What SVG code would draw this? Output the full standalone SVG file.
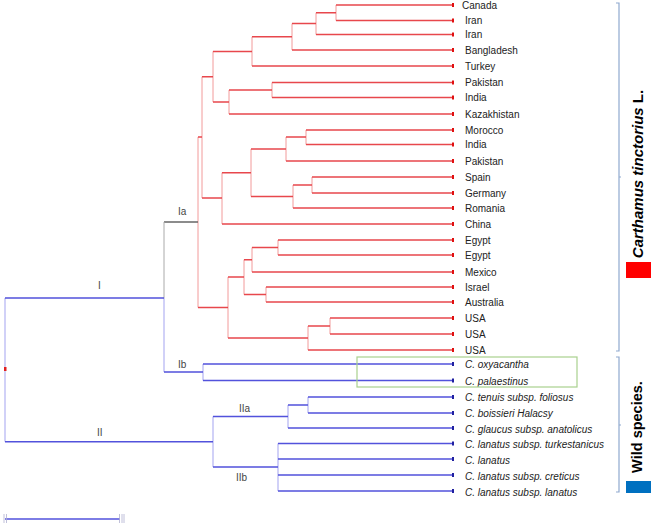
<svg xmlns="http://www.w3.org/2000/svg" width="652" height="525" viewBox="0 0 652 525">
<style>
.hr{stroke:#e8474c;stroke-width:1.5;fill:none}
.vr{stroke:#f29a9a;stroke-width:1;fill:none}
.hb{stroke:#5252dc;stroke-width:1.5;fill:none}
.vb{stroke:#a3a3f0;stroke-width:1;fill:none}
.lbl{font-family:"Liberation Sans",Arial,sans-serif;font-size:10px;fill:#222}
.it{font-style:italic}
.cl{font-family:"Liberation Sans",Arial,sans-serif;font-size:10px;fill:#444}
.tr{fill:#e01010}
.tb{fill:#2020a0}
.br{stroke:#8fa9cf;stroke-width:1.2;fill:none}
.big{font-family:"Liberation Sans",Arial,sans-serif;font-weight:bold;font-size:15px;fill:#000}
</style>
<rect width="652" height="525" fill="#fff"/>
<g id="connectors">
<!-- red verticals -->
<path class="vr" d="M336 5V20.5M316 12.75V34.5M292 23.6V50M252 36.8V66M272 82.5V97.5M229 90V114M213 51.4V102M306 130V144.5M286 137V161M312 177V193M293 185V208M251 149V196.5M222 172.7V224M202 76.7V198M278 240V255M252 247.5V272M266 287V302M244 259.7V294.5M330 318V334M308 326V350M228 277V338M198 137V307.5"/>
<!-- red horizontals -->
<path class="hr" d="M336 5H454M336 20.5H454M316 12.75H336M316 34.5H454M292 23.6H316M292 50H454M252 36.8H292M252 66H454M272 82.5H454M272 97.5H454M229 90H272M229 114H454M213 51.4H252M213 102H229M306 130H454M306 144.5H454M286 137H306M286 161H454M312 177H454M312 193H454M293 185H312M293 208H454M251 149H286M251 196.5H293M222 172.7H251M222 224H454M202 76.7H213M202 198H222M278 240H454M278 255H454M252 247.5H278M252 272H454M266 287H454M266 302H454M244 259.7H252M244 294.5H266M330 318H454M330 334H454M308 326H330M308 350H454M228 277H244M228 338H308M198 137H202M198 307.5H228"/>
<!-- Ia -->
<path d="M164 222H198" stroke="#666" stroke-width="1.5" fill="none"/>
<path d="M164 222V298" stroke="#aaa" stroke-width="1" fill="none"/>
<!-- blue verticals -->
<path class="vb" d="M164 298V372M203 364V380.5M308 397V413M288 405V428M278 443.5V491M213 416.5V467M5 298V441.7"/>
<!-- blue horizontals -->
<path class="hb" d="M5 298H164M164 372H203M203 364H454M203 380.5H454M308 397H454M308 413H454M288 405H308M288 428H454M278 443.5H454M278 459H454M278 475H454M278 491H454M213 416.5H288M213 467H278M5 441.7H213"/>
<rect x="4" y="367" width="2.5" height="4" fill="#e02020"/>
</g>
<g id="clade-labels">
<text class="cl" x="178" y="215">Ia</text>
<text class="cl" x="98" y="289">I</text>
<text class="cl" x="178" y="368">Ib</text>
<text class="cl" x="97" y="436">II</text>
<text class="cl" x="239" y="412">IIa</text>
<text class="cl" x="236" y="481">IIb</text>
</g>
<g id="leaves-cultivated">
<g id="n-canada"><rect class="tr" x="452" y="3" width="2" height="4"/><text class="lbl" x="462" y="8.5">Canada</text></g>
<g id="n-iran1"><rect class="tr" x="452" y="18.5" width="2" height="4"/><text class="lbl" x="465" y="24">Iran</text></g>
<g id="n-iran2"><rect class="tr" x="452" y="32.5" width="2" height="4"/><text class="lbl" x="465" y="38">Iran</text></g>
<g id="n-bangladesh"><rect class="tr" x="452" y="48" width="2" height="4"/><text class="lbl" x="465" y="53.5">Bangladesh</text></g>
<g id="n-turkey"><rect class="tr" x="452" y="64" width="2" height="4"/><text class="lbl" x="465" y="69.5">Turkey</text></g>
<g id="n-pakistan1"><rect class="tr" x="452" y="80.5" width="2" height="4"/><text class="lbl" x="465" y="86">Pakistan</text></g>
<g id="n-india1"><rect class="tr" x="452" y="95.5" width="2" height="4"/><text class="lbl" x="465" y="101">India</text></g>
<g id="n-kazakhistan"><rect class="tr" x="452" y="112" width="2" height="4"/><text class="lbl" x="465" y="117.5">Kazakhistan</text></g>
<g id="n-morocco"><rect class="tr" x="452" y="128" width="2" height="4"/><text class="lbl" x="465" y="133.5">Morocco</text></g>
<g id="n-india2"><rect class="tr" x="452" y="142.5" width="2" height="4"/><text class="lbl" x="465" y="148">India</text></g>
<g id="n-pakistan2"><rect class="tr" x="452" y="159" width="2" height="4"/><text class="lbl" x="465" y="164.5">Pakistan</text></g>
<g id="n-spain"><rect class="tr" x="452" y="175" width="2" height="4"/><text class="lbl" x="465" y="180.5">Spain</text></g>
<g id="n-germany"><rect class="tr" x="452" y="191" width="2" height="4"/><text class="lbl" x="465" y="196.5">Germany</text></g>
<g id="n-romania"><rect class="tr" x="452" y="206" width="2" height="4"/><text class="lbl" x="465" y="211.5">Romania</text></g>
<g id="n-china"><rect class="tr" x="452" y="222" width="2" height="4"/><text class="lbl" x="465" y="227.5">China</text></g>
<g id="n-egypt1"><rect class="tr" x="452" y="238" width="2" height="4"/><text class="lbl" x="465" y="243.5">Egypt</text></g>
<g id="n-egypt2"><rect class="tr" x="452" y="253" width="2" height="4"/><text class="lbl" x="465" y="258.5">Egypt</text></g>
<g id="n-mexico"><rect class="tr" x="452" y="270" width="2" height="4"/><text class="lbl" x="465" y="275.5">Mexico</text></g>
<g id="n-israel"><rect class="tr" x="452" y="285" width="2" height="4"/><text class="lbl" x="465" y="290.5">Israel</text></g>
<g id="n-australia"><rect class="tr" x="452" y="300" width="2" height="4"/><text class="lbl" x="465" y="305.5">Australia</text></g>
<g id="n-usa1"><rect class="tr" x="452" y="316" width="2" height="4"/><text class="lbl" x="465" y="321.5">USA</text></g>
<g id="n-usa2"><rect class="tr" x="452" y="332" width="2" height="4"/><text class="lbl" x="465" y="337.5">USA</text></g>
<g id="n-usa3"><rect class="tr" x="452" y="348" width="2" height="4"/><text class="lbl" x="465" y="353.5">USA</text></g>
</g>
<g id="leaves-wild">
<g id="n-oxyacantha"><rect class="tb" x="452" y="362" width="2" height="4"/><text class="lbl it" x="465" y="367.5">C. oxyacantha</text></g>
<g id="n-palaestinus"><rect class="tb" x="452" y="378.5" width="2" height="4"/><text class="lbl it" x="465" y="384.5">C. palaestinus</text></g>
<g id="n-tenuis"><rect class="tb" x="452" y="395" width="2" height="4"/><text class="lbl it" x="465" y="401">C. tenuis subsp. foliosus</text></g>
<g id="n-boissieri"><rect class="tb" x="452" y="411" width="2" height="4"/><text class="lbl it" x="465" y="416.5">C. boissieri Halacsy</text></g>
<g id="n-glaucus"><rect class="tb" x="452" y="426" width="2" height="4"/><text class="lbl it" x="465" y="433">C. glaucus subsp. anatolicus</text></g>
<g id="n-turkestanicus"><rect class="tb" x="452" y="441.5" width="2" height="4"/><text class="lbl it" x="465" y="447.5">C. lanatus subsp. turkestanicus</text></g>
<g id="n-lanatus"><rect class="tb" x="452" y="457" width="2" height="4"/><text class="lbl it" x="465" y="464">C. lanatus</text></g>
<g id="n-creticus"><rect class="tb" x="452" y="473" width="2" height="4"/><text class="lbl it" x="465" y="480">C. lanatus subsp. creticus</text></g>
<g id="n-lanatus-lanatus"><rect class="tb" x="452" y="489" width="2" height="4"/><text class="lbl it" x="465" y="496">C. lanatus subsp. lanatus</text></g>
</g>
<g id="highlight-box">
<rect x="357" y="357" width="220" height="30" fill="none" stroke="#a9d18e" stroke-width="1.2"/>
</g>
<g id="group-carthamus">
<path class="br" d="M616 3H619V351H616M619 177H621"/>
<text class="big" transform="translate(643,174) rotate(-90)" text-anchor="middle"><tspan font-style="italic">Carthamus tinctorius</tspan> L.</text>
<rect x="626" y="262" width="25" height="16" fill="#ff0000"/>
</g>
<g id="group-wild">
<path class="br" d="M616 357H619V492H616M619 425H621"/>
<text class="big" transform="translate(642,427) rotate(-90)" text-anchor="middle" style="font-size:14.5px">Wild species.</text>
<rect x="626" y="481" width="25" height="12" fill="#0070c0"/>
</g>
<g id="scale-bar">
<path d="M5 519H120" stroke="#5252dc" stroke-width="1.5"/>
<path d="M4 514V523M6.5 514V523M119.5 514V523M122 514V523M124 514V523" stroke="#b0b0d0" stroke-width="0.8"/>
</g>
</svg>
